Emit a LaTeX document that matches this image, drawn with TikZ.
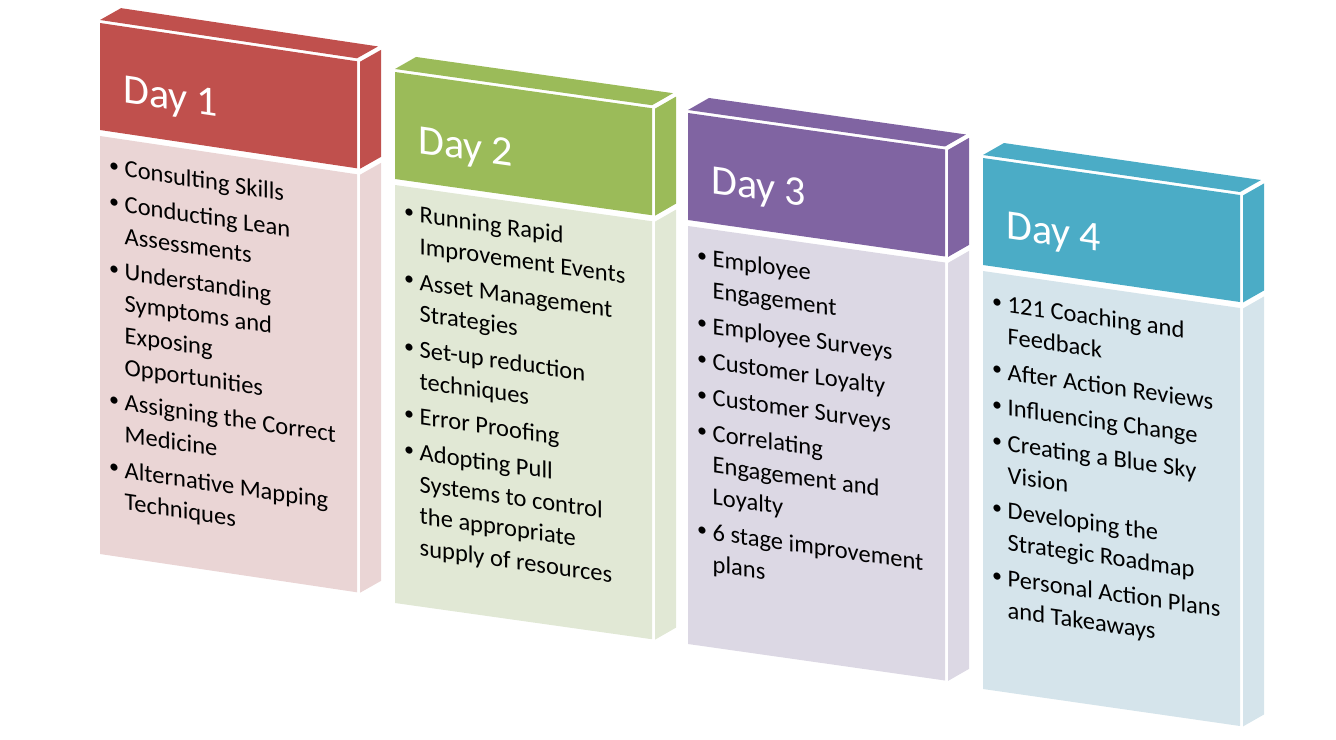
\documentclass[tikz,border=0pt]{standalone}
\usepackage{fontspec}
\setmainfont{Carlito}
\definecolor{redH}{HTML}{C0504D}
\definecolor{redB}{HTML}{EAD5D5}
\definecolor{grnH}{HTML}{9BBB59}
\definecolor{grnB}{HTML}{E1E8D5}
\definecolor{purH}{HTML}{8064A2}
\definecolor{purB}{HTML}{DCD8E4}
\definecolor{cyaH}{HTML}{4BACC6}
\definecolor{cyaB}{HTML}{D5E4EB}
\tikzset{
  boxframe/.style n args={3}{shift={(#1pt,-#2pt)}, yslant=-#3, x=1pt, y=-1pt, transform shape},
  hdr/.style={font=\fontsize{42}{50}\selectfont, text=white, anchor=base west, inner sep=0pt},
  bodytext/.style={font=\fontsize{24.5}{31.7}\selectfont, text=black, anchor=north west,
    inner sep=0pt, text width=252pt, align=left},
}
\newcommand\boxshapes[2]{%
  \fill[#1] (0,-3) -- (257,-3) -- (278,-18) -- (21,-18) -- cycle;
  \fill[#1] (0,0) rectangle (257,107);
  \fill[#1] (260,0) -- (281,-15) -- (281,92) -- (260,107) -- cycle;
  \fill[#2] (0,113) rectangle (257,531);
  \fill[#2] (260,113) -- (281,98) -- (281,516) -- (260,531) -- cycle;}
\newcommand\itm[1]{\hangindent=16.5pt\hangafter=1\noindent
  \makebox[16.5pt][l]{\hspace{1pt}\raisebox{3pt}{\fontsize{20}{20}\selectfont\textbullet}}%
  \rule{0pt}{24pt}#1\par}
\newcommand\startlist{\setlength\parskip{4pt}\setlength\parindent{0pt}%
  \spaceskip=0pt\xspaceskip=0pt\rightskip=0pt plus 1fil\parfillskip=0pt plus 1fil\relax}
\begin{document}
\begin{tikzpicture}
\useasboundingbox (0,0) rectangle (1336pt,-739pt);
% Day 1
\begin{scope}[boxframe={100}{23}{0.149}]
  \boxshapes{redH}{redB}
  \node[hdr] (d1) at (23,76) {Day 1};
  \node[bodytext] (t1) at (8,126) {\startlist
    \itm{Consulting Skills}
    \itm{Conducting Lean\newline Assessments}
    \itm{Understanding\newline Symptoms and\newline Exposing\newline Opportunities}
    \itm{Assigning the Correct\newline Medicine}
    \itm{Alternative Mapping\newline Techniques}};
\end{scope}
% Day 2
\begin{scope}[boxframe={395}{72}{0.141}]
  \boxshapes{grnH}{grnB}
  \node[hdr] (d2) at (23,78) {Day 2};
  \node[bodytext] (t2) at (8,123) {\startlist
    \itm{Running Rapid\newline Improvement Events}
    \itm{Asset Management\newline Strategies}
    \itm{Set-up reduction\newline techniques}
    \itm{Error Proofing}
    \itm{Adopting Pull\newline Systems to control\newline the appropriate\newline supply of resources}};
\end{scope}
% Day 3
\begin{scope}[boxframe={688}{113}{0.142}]
  \boxshapes{purH}{purB}
  \node[hdr] (d3) at (23,77) {Day 3};
  \node[bodytext] (t3) at (8,126) {\startlist
    \itm{Employee\newline Engagement}
    \itm{Employee Surveys}
    \itm{Customer Loyalty}
    \itm{Customer Surveys}
    \itm{Correlating\newline Engagement and\newline Loyalty}
    \itm{6 stage improvement\newline plans}};
\end{scope}
% Day 4
\begin{scope}[boxframe={983}{158}{0.144}]
  \boxshapes{cyaH}{cyaB}
  \node[hdr] (d4) at (23,77) {Day 4};
  \node[bodytext] (t4) at (8,127) {\startlist
    \itm{121 Coaching and\newline Feedback}
    \itm{After Action Reviews}
    \itm{Influencing Change}
    \itm{Creating a Blue Sky\newline Vision}
    \itm{Developing the\newline Strategic Roadmap}
    \itm{Personal Action Plans\newline and Takeaways}};
\end{scope}
\end{tikzpicture}
\end{document}
